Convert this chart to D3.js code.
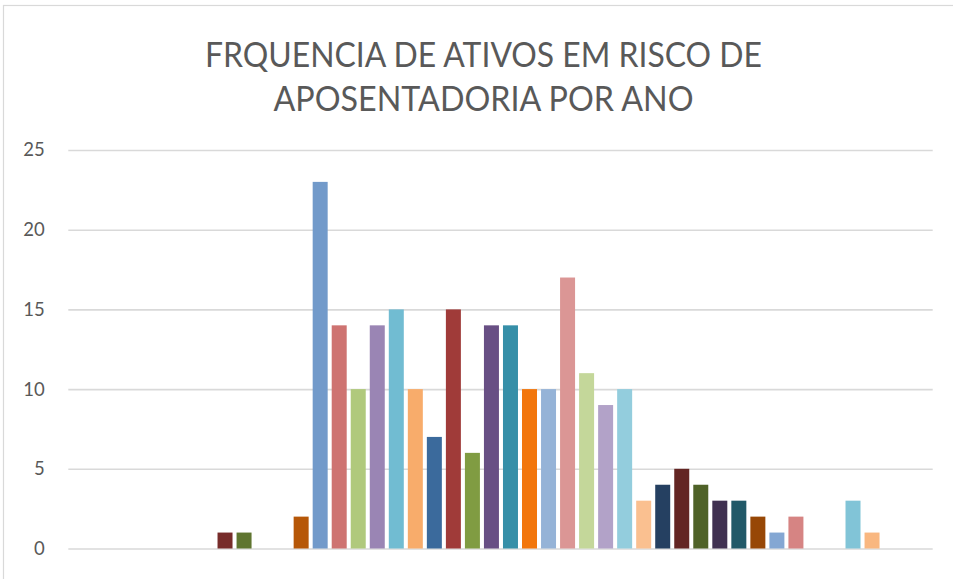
<!DOCTYPE html>
<html>
<head>
<meta charset="utf-8">
<script src="https://cdn.jsdelivr.net/npm/d3@7"></script>
<style>
  body { margin: 0; background: #fff; }
  svg { display: block; }
</style>
</head>
<body>
<div id="chart"></div>
<script>
// one bar per year, colours vary by point (excel style)
const titleLines = ['FRQUENCIA DE ATIVOS EM RISCO DE', 'APOSENTADORIA POR ANO']
const yTicks = [0, 5, 10, 15, 20, 25]
const values = [
  0, 0, 0, 0, 0, 0, 0, 1, 1, 0,
  0, 2, 23, 14, 10, 14, 15, 10, 7, 15,
  6, 14, 14, 10, 10, 17, 11, 9, 10, 3,
  4, 5, 4, 3, 3, 2, 1, 2, 0, 0,
  3, 1, 0, 0, 0
]
const categories = d3.range(values.length)
const colors = [
  '#4F81BD', '#C0504D', '#9BBB59', '#8064A2', '#4BACC6', '#F79646',
  '#2C4D75', '#772C2A', '#5F7530', '#4D3B62', '#276A7C', '#B65708',
  '#729ACA', '#CE7371', '#B0C97C', '#9A85B4', '#71BCD2', '#F8AC6B',
  '#3B6A9C', '#A03B39', '#809C42', '#684F84', '#368FA8', '#F2760C',
  '#95B3D7', '#DB9695', '#C4D79A', '#B2A2C8', '#93CDDD', '#FAC090',
  '#254061', '#632523', '#4F6228', '#403151', '#215968', '#974706',
  '#84A7D3', '#D68483', '#B7CF8C', '#A794BE', '#81C4D7', '#F9B780',
  '#C4D79A', '#B2A2C8', '#93CDDD'
]

var width = 953, height = 579
var gridLeft = 68.3, gridRight = 932.7
var step = 19.03, x0 = 82.3

var svg = d3.select('#chart').
  append('svg').
  attr('width', width).
  attr('height', height)

// chart frame (only top and left edges are in the picture)
svg.append('rect').
  attr('x', 3.5).
  attr('y', 5.5).
  attr('width', width + 10).
  attr('height', height + 10).
  attr('fill', 'none').
  attr('stroke', '#d9d9d9').
  attr('stroke-width', 1.2)

var x = d3.scaleBand().
  domain(categories).
  range([x0, x0 + step * categories.length]).
  paddingInner(0.212).
  paddingOuter(0.106)

var y = d3.scaleLinear().
  domain([0, 25]).
  range([548.5, 150])

var yAxis = d3.axisLeft(y).
  tickValues(yTicks).
  tickSize(gridRight - gridLeft).
  tickPadding(23.5)

svg.append('g').
  attr('transform', 'translate(' + gridRight + ',0)').
  call(yAxis).
  call(g => g.select('.domain').remove()).
  call(g => g.selectAll('line').attr('stroke', '#d9d9d9').attr('stroke-width', 1.6)).
  call(g => g.selectAll('text').
    attr('fill', '#595959').
    style('font-family', 'Lato, "Noto Sans", sans-serif').
    style('font-size', '18.5px'))

svg.append('g').
  selectAll('rect').
  data(values).
  enter().
  append('rect').
  attr('x', (d, i) => x(categories[i])).
  attr('width', x.bandwidth()).
  attr('y', d => y(d)).
  attr('height', d => y(0) - y(d)).
  attr('fill', (d, i) => colors[i])

var titleWidths = [557, 420]
svg.append('g').
  selectAll('text').
  data(titleLines).
  enter().
  append('text').
  attr('x', 483.5).
  attr('y', (d, i) => 66.7 + i * 44).
  attr('text-anchor', 'middle').
  attr('textLength', (d, i) => titleWidths[i]).
  attr('lengthAdjust', 'spacingAndGlyphs').
  attr('fill', '#595959').
  style('font-family', 'Lato, "Noto Sans", sans-serif').
  style('font-size', '35px').
  text(d => d)
</script>
</body>
</html>
